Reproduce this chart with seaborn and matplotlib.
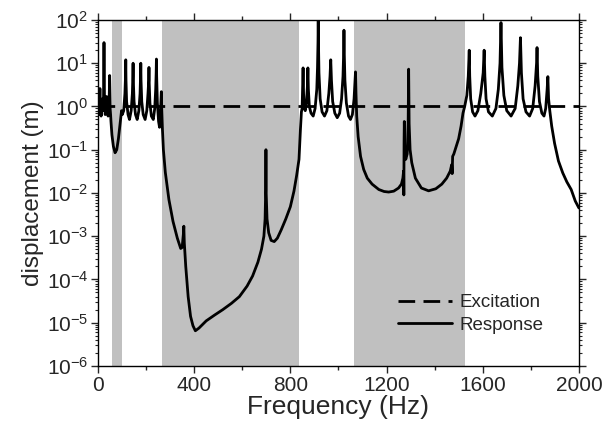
import numpy as np
import pandas as pd
import matplotlib
matplotlib.use("Agg")
import matplotlib.pyplot as plt
import seaborn as sns
from matplotlib.ticker import LogLocator, MultipleLocator

# stop bands (Hz)
band_edges = [(60, 100), (268, 836), (1065, 1525)]

# excitation level
exc_freq = [0, 2000]
exc_disp = [1.0, 1.0]

# response, (frequency Hz, displacement m)
resp_low = [(0, 0.85), (3, 0.65), (6, 1.0), (8, 2.6), (10, 0.9), (13, 0.6), (16, 0.9),
            (18, 1.5), (20, 0.8), (23, 1.5), (25, 30), (27, 1.5), (30, 0.65), (34, 0.9),
            (36, 1.7), (38, 0.8), (42, 0.6), (46, 1.0), (48.5, 5.2), (51, 0.9), (54, 0.45),
            (58, 0.22), (64, 0.12), (71, 0.085), (78, 0.1), (85, 0.18), (92, 0.4), (98, 0.8)]

resp_pass1 = [(101, 0.65), (107, 0.8), (112, 2.0), (114.5, 5), (115.5, 12), (116.5, 4),
              (119, 1.3), (125, 0.65), (131, 0.5), (138, 0.8), (143, 2), (145, 5), (146, 10),
              (147, 4), (150, 1.3), (156, 0.65), (163, 0.5), (170, 0.8), (175, 2), (177, 5),
              (178, 10), (179, 4), (182, 1.3), (188, 0.65), (196, 0.5), (203, 0.8), (208, 2),
              (211, 4), (212, 8), (213, 3.5), (216, 1.2), (222, 0.6), (230, 0.5), (236, 0.9),
              (240, 2.5), (242, 6), (243, 12.5), (244, 5), (247, 1.2), (252, 0.45), (256, 0.33),
              (259, 0.6), (262, 1.5), (263.5, 2.2), (265, 0.9), (268, 0.3)]

resp_stop2 = [(272, 0.1), (280, 0.03), (295, 0.007), (312, 0.0022), (330, 0.0009),
              (344, 0.00052), (350, 0.00055), (355, 0.0011), (357, 0.0017), (359, 0.0007),
              (365, 0.0002), (375, 0.00004), (385, 0.000014), (395, 0.0000085),
              (405, 0.0000065), (420, 0.0000075), (450, 0.000011), (485, 0.000015),
              (519, 0.00002), (555, 0.000028), (588, 0.00004), (620, 0.00007), (643, 0.00012),
              (665, 0.00025), (680, 0.0005), (690, 0.001), (695, 0.0025), (697.5, 0.012),
              (698.5, 0.1), (699.5, 0.01), (703, 0.0025), (710, 0.0012), (720, 0.0008),
              (733, 0.00075), (746, 0.0009), (762, 0.0014), (781, 0.0025), (800, 0.0048),
              (815, 0.011), (826, 0.025), (836, 0.06), (842, 0.3), (846, 0.75)]

resp_pass2 = [(849, 0.9), (851, 3), (853, 7.8), (855, 2), (858, 0.9), (862, 0.8), (867, 1.2),
              (871, 3), (873, 7.8), (875, 2.5), (879, 1.0), (886, 0.7), (895, 0.6), (903, 0.9),
              (910, 2.5), (913, 8), (915, 30), (916, 100), (917, 30), (919, 6), (924, 1.5),
              (932, 0.75), (942, 0.6), (952, 0.8), (960, 2), (965, 5), (968, 12), (971, 4),
              (976, 1.3), (985, 0.7), (995, 0.55), (1005, 0.7), (1013, 1.5), (1019, 5),
              (1022, 20), (1023, 58), (1024, 20), (1027, 4), (1033, 1.2), (1042, 0.6),
              (1050, 0.5), (1058, 0.65), (1065, 1.5), (1069, 4), (1071, 6.3), (1073, 2)]

resp_stop3 = [(1076, 0.6), (1082, 0.2), (1092, 0.07), (1105, 0.035), (1120, 0.022),
              (1140, 0.016), (1168, 0.012), (1190, 0.0108), (1209, 0.0105), (1230, 0.011),
              (1250, 0.013), (1262, 0.016), (1268, 0.022), (1271, 0.032), (1272, 0.009),
              (1273, 0.15), (1274, 0.45), (1275.5, 0.12), (1280, 0.06), (1286, 0.08),
              (1290, 0.4), (1292, 7.3), (1294, 0.4), (1298, 0.1), (1305, 0.05), (1320, 0.022),
              (1345, 0.013), (1375, 0.0112), (1405, 0.0125), (1430, 0.016), (1450, 0.022),
              (1465, 0.032), (1471, 0.045), (1473, 0.028), (1475, 0.07), (1480, 0.08),
              (1490, 0.12), (1500, 0.18), (1510, 0.35), (1518, 0.7)]

resp_pass3 = [(1525, 1.0), (1534, 1.8), (1540, 5), (1544, 20), (1546, 5), (1550, 1.5),
              (1558, 0.75), (1568, 0.6), (1580, 0.8), (1592, 2), (1602, 6), (1606, 20),
              (1609, 5), (1614, 1.5), (1624, 0.75), (1640, 0.6), (1655, 0.9), (1665, 2.5),
              (1672, 10), (1676, 87), (1680, 8), (1688, 1.8), (1700, 0.8), (1718, 0.6),
              (1735, 0.9), (1746, 3), (1753, 10), (1757, 39), (1761, 6), (1768, 1.5),
              (1780, 0.75), (1795, 0.6), (1808, 0.9), (1818, 3), (1824, 10), (1826, 23),
              (1829, 5), (1836, 1.3), (1846, 0.7), (1855, 0.6), (1862, 0.9), (1868, 2.5),
              (1871, 4.9), (1874, 1.5), (1879, 0.8), (1887, 0.35), (1899, 0.14), (1915, 0.055),
              (1933, 0.029), (1950, 0.018), (1968, 0.012), (1985, 0.0065), (2000, 0.0045)]

resp = pd.DataFrame(resp_low + resp_pass1 + resp_stop2 + resp_pass2 + resp_stop3 + resp_pass3,
                    columns=["freq", "disp"])
exc = pd.DataFrame({"freq": exc_freq, "disp": exc_disp})

sns.set_style("ticks")
plt.rcParams['font.family'] = ['Liberation Sans', 'DejaVu Sans']
plt.rcParams['mathtext.default'] = 'regular'

fig = plt.figure(figsize=(6.03, 4.32), dpi=100)
ax = fig.add_axes([0.1625, 0.153, 0.7975, 0.8007])

for lo, hi in band_edges:
    ax.axvspan(lo, hi, color='#c0c0c0', lw=0, zorder=0)

sns.lineplot(data=exc, x="freq", y="disp", ax=ax, color='black', lw=2,
             linestyle=(0, (6, 3)), label='Excitation', estimator=None)
sns.lineplot(data=resp, x="freq", y="disp", ax=ax, color='black', lw=2,
             label='Response', estimator=None, sort=False)

ax.set_yscale('log')
ax.set_xlim(0, 2000)
ax.set_ylim(1e-6, 1e2)
ax.xaxis.set_major_locator(MultipleLocator(400))
ax.xaxis.set_minor_locator(MultipleLocator(200))
ax.yaxis.set_major_locator(LogLocator(base=10, numticks=20))
ax.yaxis.set_minor_locator(LogLocator(base=10, subs=np.arange(2, 10), numticks=20))

ax.tick_params(axis='x', which='major', direction='out', length=5, width=1, labelsize=15,
               top=True, pad=2)
ax.tick_params(axis='x', which='minor', direction='out', length=3, width=1, top=True)
ax.tick_params(axis='y', which='major', direction='out', length=5, width=1, labelsize=15,
               right=True, pad=2)
ax.tick_params(axis='y', which='minor', direction='out', length=2.5, width=0.8, right=True)
for s in ax.spines.values():
    s.set_linewidth(1)
    s.set_color('black')

ax.set_xlabel('Frequency (Hz)', fontsize=19, labelpad=0)
ax.set_ylabel('displacement (m)', fontsize=17.5, labelpad=2)

ax.legend(loc='lower right', bbox_to_anchor=(0.95, 0.06), frameon=False, fontsize=13.5,
          handlelength=2.9, handletextpad=0.4, labelspacing=0.3, borderaxespad=0.2)

fig.savefig('out.png', dpi=100)
